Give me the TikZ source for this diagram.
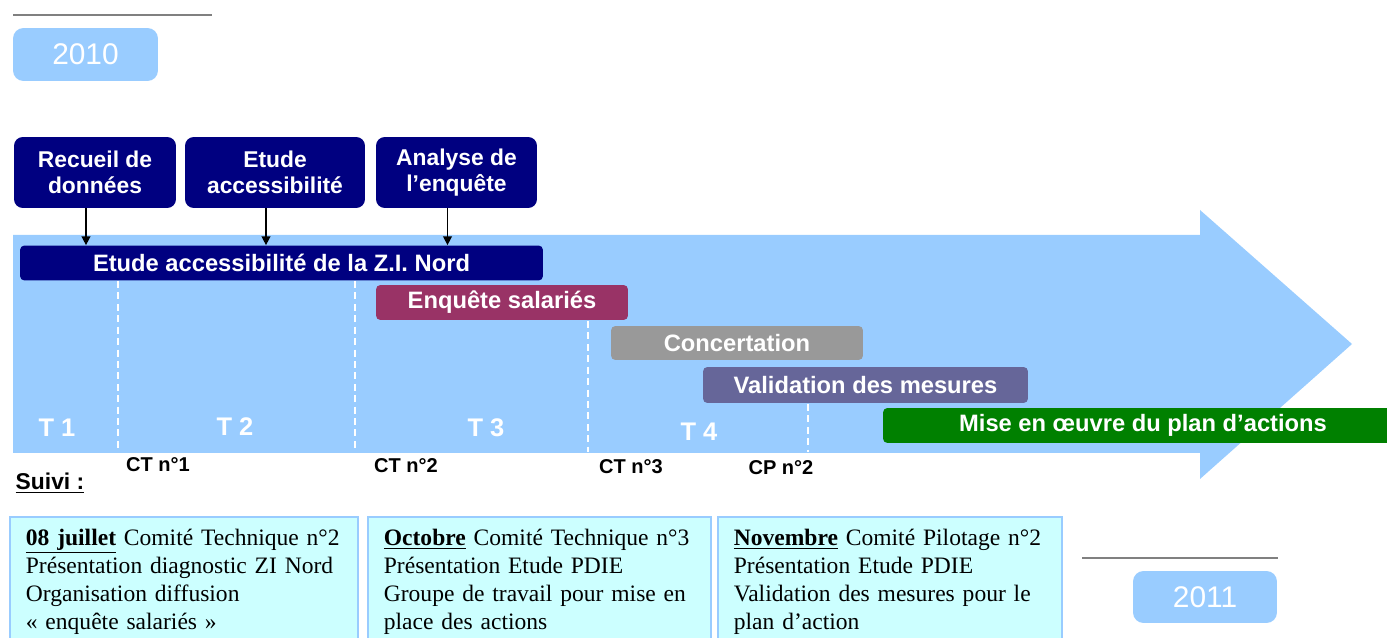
\documentclass[tikz,border=0pt]{standalone}
\usepackage{fontspec}
\setmainfont{Liberation Serif}
\setsansfont{Liberation Sans}
\usetikzlibrary{arrows.meta,positioning,calc}
\definecolor{fleche}{HTML}{99CCFF}
\definecolor{marine}{HTML}{000080}
\definecolor{enqcol}{HTML}{993366}
\definecolor{concol}{HTML}{999999}
\definecolor{valcol}{HTML}{666699}
\definecolor{miscol}{HTML}{008000}
\definecolor{cyanclair}{HTML}{CCFFFF}
\definecolor{trait}{HTML}{808080}

\begin{document}
\begin{tikzpicture}[x=0.02cm,y=-0.02cm,
		tache/.style={fill=marine,rounded corners=5pt,text=white,align=center,inner sep=0pt,
			font=\sffamily\bfseries\fontsize{13}{14.7}\selectfont,minimum height=1.42cm},
		barre/.style={fill=#1,rounded corners=2.5pt,text=white,inner sep=0pt,
			font=\sffamily\bfseries\fontsize{13.5}{15}\selectfont,minimum height=0.7cm},
		annee/.style={fill=fleche,rounded corners=6pt,text=white,inner sep=0pt,
			font=\sffamily\fontsize{17}{20}\selectfont,minimum width=2.9cm,minimum height=1.06cm},
		periode/.style={text=white,font=\sffamily\bfseries\fontsize{14.5}{16}\selectfont},
		comite/.style={font=\sffamily\bfseries\fontsize{11.4}{13}\selectfont},
		suivi/.style={draw=fleche,line width=1pt,fill=cyanclair,anchor=north west,align=left,
			inner xsep=0.32cm,inner ysep=0.24cm,font=\fontsize{13.4}{15.9}\selectfont},
		pointille/.style={white,line width=0.7pt,dash pattern=on 4pt off 2.5pt},
		annonce/.style={-{Triangle[length=5pt,width=5pt]},line width=0.8pt}
		]
	\useasboundingbox (0,0) rectangle (1387,638);

	\fill[fleche] (13,235) -- (1200,235) -- (1200,210) -- (1352,344) -- (1200,479)
		-- (1200,453) -- (13,453) -- cycle;

	\draw[trait,line width=1.7pt] (13,15) -- (212,15);
	\node[annee] (an2010) at (85.5,54.5) {2010};

	\node[tache,minimum width=3.24cm] (recueil) at (95,172.5) {Recueil de\\données};
	\node[tache,minimum width=3.6cm] (etudeacc) at (275,172.5) {Etude\\accessibilité};
	\node[tache,minimum width=3.22cm] (analyse) at (456.5,172.5) {Analyse de\\l’enquête};

	\node[barre=marine,minimum width=10.46cm] (etude) at (281.5,263) {Etude accessibilité de la Z.I. Nord};
	\node[barre=enqcol,minimum width=5.04cm] (enquete) at (502,302.5) {Enquête salariés};
	\node[barre=concol,minimum width=5.04cm,minimum height=0.68cm] (concert) at (737,343) {Concertation};
	\node[barre=valcol,minimum width=6.5cm,minimum height=0.72cm] (valid) at (865.5,385) {Validation des mesures};
	\node[barre=miscol,minimum width=10.4cm] (mise) at (1143,425.5) {Mise en œuvre du plan d’actions};

	\foreach \n in {recueil,etudeacc,analyse}{
		\coordinate (\n-pied) at ([xshift=-0.18cm]\n.south);
		\draw[annonce] (\n-pied) -- (\n-pied |- etude.north);
	}

	\foreach \x/\y in {118/281,355/281,588/321,808/404}
		\draw[pointille] (\x,\y) -- (\x,452);

	\node[periode] (t1) at (57,428) {T 1};
	\node[periode] (t2) at (235,427) {T 2};
	\node[periode] (t3) at (486,428) {T 3};
	\node[periode] (t4) at (699,432) {T 4};

	\node[comite] (ct1) at (158,465) {CT n°1};
	\node[comite] (ct2) at (406,466) {CT n°2};
	\node[comite] (ct3) at (631,467) {CT n°3};
	\node[comite] (cp2) at (781,468) {CP n°2};
	\node[comite,font=\sffamily\bfseries\fontsize{13}{15}\selectfont] (suivi) at (50,483) {\underline{Suivi :}};

	\node[suivi,text width=6.32cm] (juillet) at (9,516) {\mbox{\underline{\textbf{08 juillet}} Comité Technique n°2}\\
		\mbox{Présentation diagnostic ZI Nord}\\Organisation diffusion\\« enquête salariés »};
	\node[suivi,text width=6.22cm] (octobre) at (367,516) {\mbox{\underline{\textbf{Octobre}} Comité Technique n°3}\\
		Présentation Etude PDIE\\\mbox{Groupe de travail pour mise en}\\place des actions};
	\node[suivi,text width=6.24cm] (novembre) at (717,516) {\mbox{\underline{\textbf{Novembre}} Comité Pilotage n°2}\\
		Présentation Etude PDIE\\\mbox{Validation des mesures pour le}\\plan d’action};

	\draw[trait,line width=1.7pt] (1082,558) -- (1278,558);
	\node[annee,minimum width=2.88cm,minimum height=1.04cm] (an2011) at (1205,597) {2011};
\end{tikzpicture}
\end{document}
